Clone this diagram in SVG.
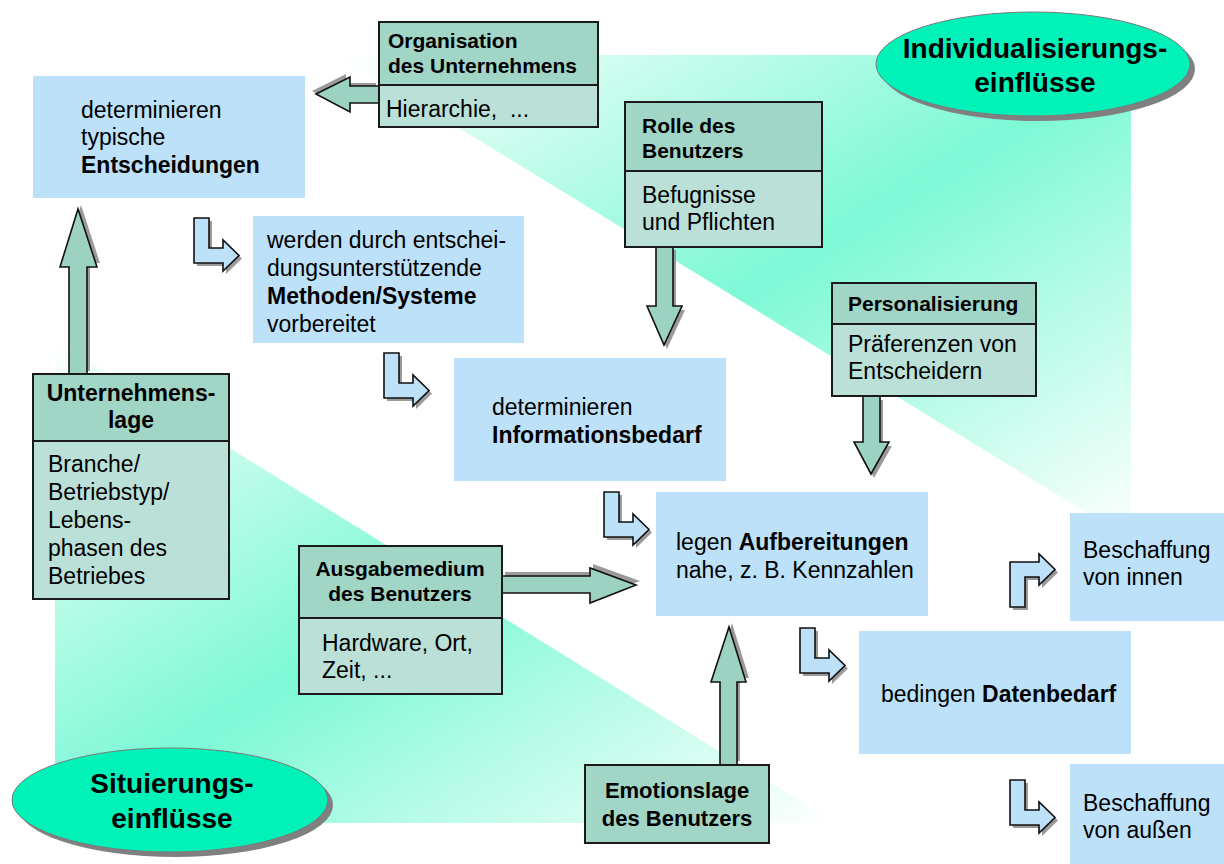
<svg xmlns="http://www.w3.org/2000/svg" xmlns:xlink="http://www.w3.org/1999/xlink" width="1224" height="864" viewBox="0 0 1224 864">
<style>
.t{font-family:"Liberation Sans",Arial,sans-serif;font-size:23px;fill:#000}
.b{font-weight:bold}
.h{font-family:"Liberation Sans",Arial,sans-serif;font-weight:bold;font-size:21px;fill:#000}
.e{font-family:"Liberation Sans",Arial,sans-serif;font-weight:bold;font-size:28px;fill:#000}
.blue{fill:#BDE1F9}
.hd{fill:#A1D5C6;stroke:#1a1a1a;stroke-width:2}
.bd{fill:#BBE0D8;stroke:#1a1a1a;stroke-width:2}
.ell{fill:#00F2B9;stroke:#7a7a7a;stroke-width:1}
.sh{fill:#9a9a9a}
.ba{fill:#9CD2C2;stroke:#111;stroke-width:1.6;stroke-linejoin:miter}
.bent{fill:#BDE1F9;stroke:#111;stroke-width:1.6}
</style>
<defs>
<linearGradient id="gr" x1="0" y1="0" x2="1" y2="1">
<stop offset="0" stop-color="#ffffff"/>
<stop offset="0.5" stop-color="#7DF9D5"/>
<stop offset="1" stop-color="#ffffff"/>
</linearGradient>
<path id="bentp" d="M0,0H15V30H29V22L45,37.5L29,53V45H0Z"/>
</defs>
<rect width="1224" height="864" fill="#ffffff"/>
<g id="background">
<polygon points="340,55 1131,55 1131,540" fill="url(#gr)"/>
<polygon points="55,340 55,823 835,823" fill="url(#gr)"/>
</g>
<g id="ellipse-individualisierung">
<ellipse cx="1038" cy="69" rx="157" ry="52" fill="#808080"/>
<ellipse class="ell" cx="1033" cy="64" rx="157" ry="52"/>
<text class="e" x="1035" y="58" text-anchor="middle">Individualisierungs-</text>
<text class="e" x="1035" y="92" text-anchor="middle">einflüsse</text>
</g>
<g id="ellipse-situierung">
<ellipse cx="175" cy="805" rx="158" ry="52" fill="#808080"/>
<ellipse class="ell" cx="170" cy="800" rx="158" ry="52"/>
<text class="e" x="172" y="793" text-anchor="middle">Situierungs-</text>
<text class="e" x="172" y="828" text-anchor="middle">einflüsse</text>
</g>
<g id="box-entscheidungen">
<rect class="blue" x="33" y="76" width="272" height="122"/>
<text class="t" x="81" y="118">determinieren</text>
<text class="t" x="81" y="145">typische</text>
<text class="t b" x="81" y="173">Entscheidungen</text>
</g>
<g id="box-methoden">
<rect class="blue" x="253" y="216" width="271" height="127"/>
<text class="t" x="267" y="248">werden durch entschei-</text>
<text class="t" x="267" y="276">dungsunterstützende</text>
<text class="t b" x="267" y="304">Methoden/Systeme</text>
<text class="t" x="267" y="332">vorbereitet</text>
</g>
<g id="box-informationsbedarf">
<rect class="blue" x="454" y="358" width="272" height="123"/>
<text class="t" x="492" y="415">determinieren</text>
<text class="t b" x="492" y="443">Informationsbedarf</text>
</g>
<g id="box-aufbereitungen">
<rect class="blue" x="656" y="492" width="272" height="124"/>
<text class="t" x="676" y="550">legen <tspan class="b">Aufbereitungen</tspan></text>
<text class="t" x="676" y="578">nahe, z. B. Kennzahlen</text>
</g>
<g id="box-datenbedarf">
<rect class="blue" x="859" y="631" width="272" height="123"/>
<text class="t" x="881" y="702">bedingen <tspan class="b">Datenbedarf</tspan></text>
</g>
<g id="box-innen">
<rect class="blue" x="1070" y="513" width="154" height="108"/>
<text class="t" x="1083" y="558">Beschaffung</text>
<text class="t" x="1083" y="585">von innen</text>
</g>
<g id="box-aussen">
<rect class="blue" x="1070" y="764" width="154" height="100"/>
<text class="t" x="1083" y="811">Beschaffung</text>
<text class="t" x="1083" y="838">von außen</text>
</g>
<g id="connectors">
<polygon class="sh" points="312,91 346,74 346,83 376,83 376,100 346,100 346,109"/>
<polygon class="ba" points="316,94 350,77 350,86 381,86 381,103 350,103 350,112"/>
<polygon class="sh" points="81,205 100,263 90,263 90,371 72,371 72,263 63,263"/>
<polygon class="ba" points="78,209 97,267 87,267 87,375 69,375 69,267 60,267"/>
<polygon class="sh" points="659,250 676,250 676,310 685,310 667,349 650,310 659,310"/>
<polygon class="ba" points="656,246 673,246 673,306 682,306 664,345 647,306 656,306"/>
<polygon class="sh" points="866,400 883,400 883,446 892,446 874,478 857,446 866,446"/>
<polygon class="ba" points="863,396 880,396 880,442 889,442 871,474 854,442 863,442"/>
<polygon class="sh" points="505,572 593,572 593,564 640,581 593,599 593,589 505,589"/>
<polygon class="ba" points="501,576 590,576 590,568 636,585 590,603 590,593 501,593"/>
<polygon class="sh" points="732,623 749,678 740,678 740,761 723,761 723,678 714,678"/>
<polygon class="ba" points="729,627 746,682 737,682 737,765 720,765 720,682 711,682"/>
<use href="#bentp" class="sh" transform="translate(197,221)"/>
<use href="#bentp" class="bent" transform="translate(194,218)"/>
<use href="#bentp" class="sh" transform="translate(387,356)"/>
<use href="#bentp" class="bent" transform="translate(384,353)"/>
<use href="#bentp" class="sh" transform="translate(607,495)"/>
<use href="#bentp" class="bent" transform="translate(604,492)"/>
<use href="#bentp" class="sh" transform="translate(803,631)"/>
<use href="#bentp" class="bent" transform="translate(800,628)"/>
<use href="#bentp" class="sh" transform="translate(1013,783)"/>
<use href="#bentp" class="bent" transform="translate(1010,780)"/>
<g transform="translate(1010,607) scale(1,-1)">
<use href="#bentp" class="sh" x="3" y="-3"/>
<use href="#bentp" class="bent"/>
</g>
</g>
<g id="node-organisation">
<rect class="hd" x="379" y="22" width="219" height="63"/>
<rect class="bd" x="379" y="85" width="219" height="42"/>
<text class="h" x="388" y="48">Organisation</text>
<text class="h" x="388" y="73">des Unternehmens</text>
<text class="t" x="386" y="117" xml:space="preserve">Hierarchie,  ...</text>
</g>
<g id="node-rolle">
<rect class="hd" x="625" y="102" width="197" height="69"/>
<rect class="bd" x="625" y="171" width="197" height="76"/>
<text class="h" x="642" y="133">Rolle des</text>
<text class="h" x="642" y="158">Benutzers</text>
<text class="t" x="642" y="203">Befugnisse</text>
<text class="t" x="642" y="230">und Pflichten</text>
</g>
<g id="node-personalisierung">
<rect class="hd" x="832" y="283" width="204" height="41"/>
<rect class="bd" x="832" y="324" width="204" height="72"/>
<text class="h" x="848" y="311">Personalisierung</text>
<text class="t" x="848" y="352">Präferenzen von</text>
<text class="t" x="848" y="379">Entscheidern</text>
</g>
<g id="node-unternehmenslage">
<rect class="hd" x="33" y="374" width="196" height="67"/>
<rect class="bd" x="33" y="441" width="196" height="158"/>
<text class="h" x="131" y="401" text-anchor="middle" style="font-size:23px">Unternehmens-</text>
<text class="h" x="131" y="428" text-anchor="middle" style="font-size:23px">lage</text>
<text class="t" x="48" y="472">Branche/</text>
<text class="t" x="48" y="500">Betriebstyp/</text>
<text class="t" x="48" y="528">Lebens-</text>
<text class="t" x="48" y="556">phasen des</text>
<text class="t" x="48" y="584">Betriebes</text>
</g>
<g id="node-ausgabemedium">
<rect class="hd" x="299" y="546" width="203" height="72"/>
<rect class="bd" x="299" y="618" width="203" height="76"/>
<text class="h" x="400" y="576" text-anchor="middle">Ausgabemedium</text>
<text class="h" x="400" y="601" text-anchor="middle">des Benutzers</text>
<text class="t" x="322" y="651">Hardware, Ort,</text>
<text class="t" x="322" y="678">Zeit, ...</text>
</g>
<g id="node-emotionslage">
<rect class="hd" x="585" y="765" width="184" height="78"/>
<text class="h" x="677" y="798" text-anchor="middle" style="font-size:22px">Emotionslage</text>
<text class="h" x="677" y="826" text-anchor="middle" style="font-size:22px">des Benutzers</text>
</g>
</svg>
